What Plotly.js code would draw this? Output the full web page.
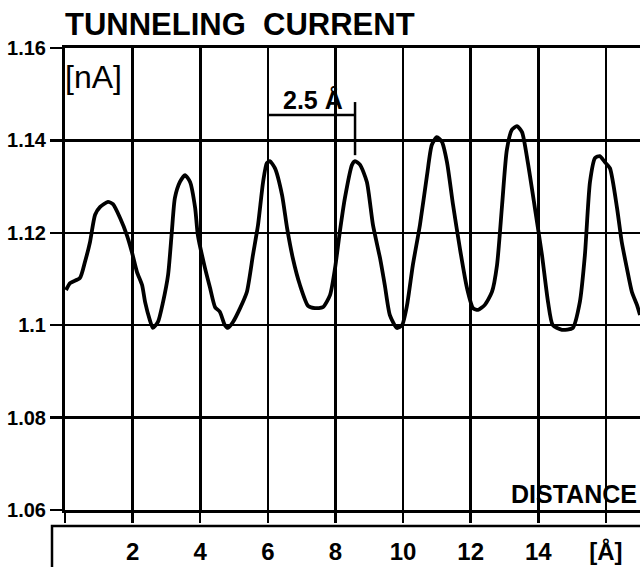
<!DOCTYPE html>
<html>
<head>
<meta charset="utf-8">
<script src="https://cdn.plot.ly/plotly-3.0.1.min.js"></script>
<style>
html,body{margin:0;padding:0;background:#fff;}
#chart{width:640px;height:567px;}
</style>
</head>
<body>
<div id="chart"></div>
<script>
// Distance in Angstrom
const distance = [0.03,0.15,0.44,0.59,0.74,0.89,1.04,1.27,1.42,1.63,1.83,1.98,2.13,2.28,2.37,2.51,2.60,2.75,2.90,3.05,3.16,3.25,3.40,3.55,3.70,3.85,3.93,4.14,4.29,4.44,4.58,4.73,4.82,4.97,5.18,5.38,5.56,5.71,5.86,5.97,6.06,6.21,6.42,6.57,6.74,6.95,7.19,7.39,7.63,7.84,7.99,8.13,8.28,8.49,8.58,8.73,8.93,9.11,9.32,9.46,9.61,9.82,9.97,10.12,10.29,10.50,10.71,10.85,11.00,11.15,11.30,11.48,11.68,11.89,12.07,12.22,12.42,12.63,12.78,12.93,13.07,13.22,13.37,13.52,13.69,13.90,14.11,14.29,14.43,14.70,15.02,15.23,15.38,15.53,15.68,15.82,15.97,16.12,16.33,16.47,16.62,16.77,16.92,17.01];
// Tunneling current in nA
const current = [1.1076,1.1091,1.1102,1.1137,1.1180,1.1239,1.1256,1.1267,1.1262,1.1232,1.1195,1.1158,1.1115,1.1087,1.1050,1.1011,1.0994,1.1007,1.1050,1.1109,1.1202,1.1275,1.1310,1.1325,1.1310,1.1254,1.1195,1.1124,1.1081,1.1039,1.1029,1.1000,1.0994,1.1007,1.1037,1.1072,1.1152,1.1217,1.1310,1.1351,1.1355,1.1340,1.1282,1.1210,1.1145,1.1087,1.1042,1.1037,1.1039,1.1065,1.1124,1.1202,1.1275,1.1347,1.1355,1.1347,1.1310,1.1217,1.1145,1.1087,1.1022,1.0994,1.1000,1.1044,1.1130,1.1217,1.1325,1.1390,1.1407,1.1397,1.1353,1.1260,1.1167,1.1081,1.1037,1.1033,1.1044,1.1072,1.1130,1.1260,1.1379,1.1423,1.1431,1.1418,1.1353,1.1254,1.1152,1.1050,1.1000,1.0990,1.0994,1.1050,1.1152,1.1310,1.1362,1.1366,1.1353,1.1340,1.1254,1.1180,1.1124,1.1072,1.1044,1.1022];

const xTickVals = [0,2,4,6,8,10,12,14,16];
const xTickText = ['','2','4','6','8','10','12','14','[Å]'];
const yTickVals = [1.06,1.08,1.1,1.12,1.14,1.16];
const yTickText = ['1.06','1.08','1.1','1.12','1.14','1.16'];

const FONT = 'Liberation Sans, Arial, Helvetica, sans-serif';

const trace = {
  x: distance, y: current, type: 'scatter', mode: 'lines',
  line: {color: '#000', width: 3.8, shape: 'spline', smoothing: 0.6},
  hoverinfo: 'skip'
};

const layout = {
  width: 640, height: 567,
  margin: {l: 65, r: 0, t: 48, b: 57, pad: 0},
  paper_bgcolor: '#fff', plot_bgcolor: '#fff',
  showlegend: false,
  font: {family: FONT, color: '#000'},
  title: {
    text: 'TUNNELING\u00A0\u00A0CURRENT',
    font: {family: FONT, size: 31, weight: 'bold', color: '#000'},
    x: 0, xref: 'paper', xanchor: 'left',
    y: 1 - 24/567, yref: 'container', yanchor: 'middle'
  },
  xaxis: {
    range: [0, 17.01], tickmode: 'array', tickvals: xTickVals, ticktext: xTickText,
    ticks: 'outside', ticklen: 10, tickwidth: 2.5, tickcolor: '#000',
    showgrid: true, gridcolor: '#000', gridwidth: 2.6,
    showline: true, linecolor: '#000', linewidth: 2.6, mirror: true,
    zeroline: false, ticklabelstandoff: 9,
    tickfont: {family: FONT, size: 24, weight: 'bold', color: '#000'}
  },
  yaxis: {
    range: [1.06, 1.16], tickmode: 'array', tickvals: yTickVals, ticktext: yTickText,
    ticks: 'outside', ticklen: 12, tickwidth: 2.5, tickcolor: '#000',
    showgrid: true, gridcolor: '#000', gridwidth: 2.5,
    showline: true, linecolor: '#000', linewidth: 3, mirror: false,
    zeroline: false,
    tickfont: {family: FONT, size: 20, weight: 'bold', color: '#000'}
  },
  annotations: [
    {text: '[nA]', xref: 'paper', yref: 'paper', x: -0.003, y: 0.98,
     xanchor: 'left', yanchor: 'top', showarrow: false,
     font: {family: FONT, size: 32, color: '#000'}},
    {text: '2.5 Å', xref: 'x', yref: 'y', x: 6.4, y: 1.1487,
     xanchor: 'left', yanchor: 'middle', showarrow: false,
     font: {family: FONT, size: 25, weight: 'bold', color: '#000'}},
    {text: 'DISTANCE', xref: 'paper', yref: 'y', x: 0.999, y: 1.0634,
     xanchor: 'right', yanchor: 'middle', showarrow: false,
     font: {family: FONT, size: 25, weight: 'bold', color: '#000'}}
  ],
  shapes: [
    {type: 'line', xref: 'x', yref: 'y', x0: 6.0, x1: 8.58, y0: 1.1455, y1: 1.1455,
     line: {color: '#000', width: 2.5}},
    {type: 'line', xref: 'x', yref: 'y', x0: 8.58, x1: 8.58, y0: 1.1483, y1: 1.1368,
     line: {color: '#000', width: 2.5}},
    {type: 'path', xref: 'paper', yref: 'paper',
     path: 'M -0.0226 -0.25 L -0.0226 -0.0346 L 1.05 -0.0346',
     line: {color: '#000', width: 2.5}}
  ]
};

Plotly.newPlot('chart', [trace], layout, {displayModeBar: false, staticPlot: true});
</script>
</body>
</html>
